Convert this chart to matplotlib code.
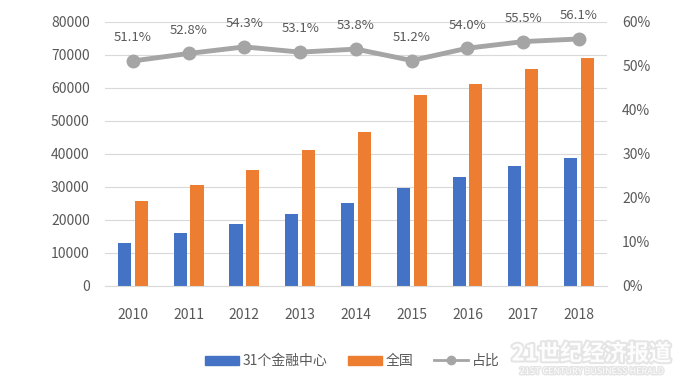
import matplotlib
matplotlib.use("Agg")
import matplotlib.pyplot as plt
import matplotlib.patheffects as pe
from matplotlib.ticker import FuncFormatter
from matplotlib.lines import Line2D
from matplotlib.patches import Patch
import numpy as np

plt.rcParams['font.family'] = ['Noto Sans CJK SC', 'DejaVu Sans']

years = ['2010', '2011', '2012', '2013', '2014', '2015', '2016', '2017', '2018']
centers = [13000, 16000, 18900, 21850, 25000, 29600, 33000, 36400, 38700]   # 31个金融中心
national = [25700, 30500, 35150, 41150, 46600, 57700, 61300, 65600, 69100]  # 全国
share = [51.1, 52.8, 54.3, 53.1, 53.8, 51.2, 54.0, 55.5, 56.1]              # 占比 (%)

blue = '#4472C4'
orange = '#ED7D31'
gray = '#A5A5A5'
txt = '#595959'

fig = plt.figure(figsize=(7, 3.89), dpi=100)
ax = fig.add_axes([0.15, 0.265, 0.717, 0.679])

x = np.arange(len(years))
w = 0.235
ax.bar(x - 0.15, centers, w, color=blue, zorder=2)
ax.bar(x + 0.15, national, w, color=orange, zorder=2)

ax.set_xlim(-0.5, len(years) - 0.5)
ax.set_ylim(0, 80000)
ax.set_yticks(range(0, 80001, 10000))
ax.set_xticks(x)
ax.set_xticklabels(years)
ax.grid(axis='y', color='#D9D9D9', linewidth=0.8, zorder=0)
for s in ['top', 'left', 'right']:
    ax.spines[s].set_visible(False)
ax.spines['bottom'].set_color('#D9D9D9')
ax.tick_params(axis='both', length=0, colors=txt, labelsize=10)
ax.tick_params(axis='x', pad=16)
ax.tick_params(axis='y', pad=11)

ax2 = ax.twinx()
ax2.set_ylim(0, 60)
ax2.set_yticks(range(0, 61, 10))
ax2.yaxis.set_major_formatter(FuncFormatter(lambda v, p: f'{v:.0f}%'))
for s in ['top', 'left', 'right', 'bottom']:
    ax2.spines[s].set_visible(False)
ax2.tick_params(axis='y', length=0, colors=txt, labelsize=10, pad=11)
ax2.plot(x, share, color=gray, linewidth=3.5, marker='o', markersize=9,
         markerfacecolor=gray, markeredgecolor=gray, zorder=3)
for xi, v in zip(x, share):
    ax2.annotate(f'{v:.1f}%', (xi, v), xytext=(0, 12), textcoords='offset points',
                 ha='center', va='bottom', fontsize=9.5, color=txt)

handles = [
    Patch(color=blue, label='31个金融中心'),
    Patch(color=orange, label='全国'),
    Line2D([0], [0], color=gray, linewidth=2, marker='o', markersize=6, label='占比'),
]
fig.legend(handles=handles, loc='center', bbox_to_anchor=(0.503, 0.072), ncol=3,
           frameon=False, fontsize=10, labelcolor=txt, handlelength=2.45,
           handleheight=0.6, columnspacing=1.45, handletextpad=0.3)

# watermark
fig.text(0.845, 0.09, '21世纪经济报道', ha='center', va='center', fontsize=16,
         fontweight='bold', color='white', alpha=0.95,
         path_effects=[pe.withStroke(linewidth=3, foreground='#E4E4E4')])
fig.text(0.845, 0.045, '21ST CENTURY BUSINESS HERALD', ha='center', va='center',
         fontsize=6.5, style='italic', color='white',
         path_effects=[pe.withStroke(linewidth=2, foreground='#E4E4E4')])

fig.savefig('out.png', dpi=100)
